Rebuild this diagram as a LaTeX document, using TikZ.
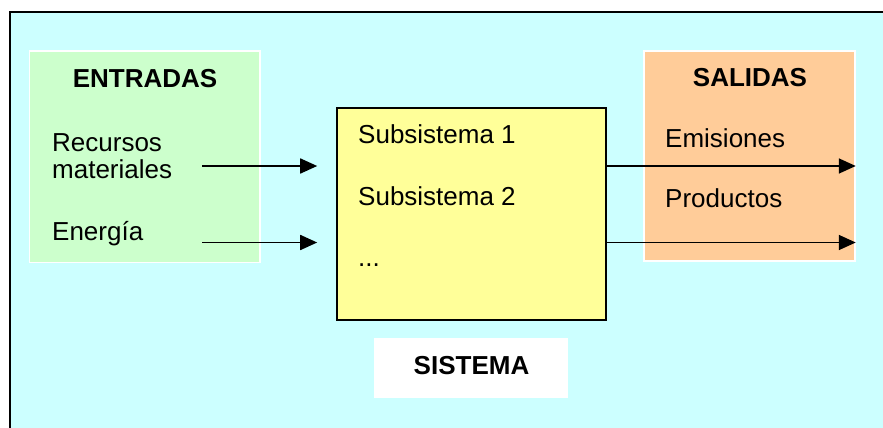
\documentclass[tikz,border=0pt]{standalone}
\usepackage{fontspec}
\setmainfont{Liberation Sans}
\usetikzlibrary{arrows.meta}
\definecolor{bgcyan}{RGB}{204,255,255}
\definecolor{ingreen}{RGB}{204,255,204}
\definecolor{outorange}{RGB}{255,204,153}
\definecolor{sysyellow}{RGB}{255,255,153}
\tikzset{
  panel/.style={draw=white, line width=1.5pt, inner sep=0pt},
  lbl/.style={anchor=base west, inner sep=0pt, font=\fontsize{26}{28}\selectfont},
  title/.style={anchor=base, inner sep=0pt, font=\fontsize{26}{28}\selectfont\bfseries},
  flow/.style={line width=1.8pt, -{Triangle[length=17pt,width=15pt]}},
}
\begin{document}
\begin{tikzpicture}[x=1pt, y=-1pt]
  \path[use as bounding box] (0,0) rectangle (883,428);
  \clip (0,0) rectangle (883,428);
  % background with its top and left frame lines
  \fill[bgcyan] (10,12) rectangle (883,428);
  \draw[line width=2pt] (10,428) -- (10,12) -- (883,12);

  % input panel
  \node[panel, fill=ingreen, minimum width=230.5pt, minimum height=211.5pt]
        (inPanel) at (144.75,156.75) {};
  \node[title] (inTitle) at (145,87) {ENTRADAS};
  \node[lbl] (rec) at (52,151.5) {Recursos};
  \node[lbl] (mat) at (52,178.3) {materiales};
  \node[lbl] (ene) at (52,240) {Energía};

  % output panel
  \node[panel, fill=outorange, minimum width=211pt, minimum height=210pt]
        (outPanel) at (749.5,156) {};
  \node[title] (outTitle) at (750,86) {SALIDAS};
  \node[lbl] (emi) at (665,147.3) {Emisiones};
  \node[lbl] (pro) at (665,207.7) {Productos};

  % system block
  \node[draw=black, line width=1.6pt, fill=sysyellow, minimum width=269pt,
        minimum height=212pt, inner sep=0pt] (sys) at (471.5,214) {};
  \node[lbl] (sub1) at (358,143.3) {Subsistema 1};
  \node[lbl] (sub2) at (358,205) {Subsistema 2};
  \node[lbl] (dots) at (358,266.7) {...};

  % system label
  \node[fill=white, minimum width=194pt, minimum height=59.5pt, inner sep=0pt]
        (sysBox) at (471.3,368) {};
  \node[title] (sysTitle) at (471.5,374.3) {SISTEMA};

  % flows into and out of the system
  \coordinate (in1) at (202,166);
  \coordinate (in2) at (202,242.5);
  \draw[flow, shorten >=19pt] (in1) -- (sys.west |- in1);
  \draw[flow, shorten >=19pt] (in2) -- (sys.west |- in2);
  \draw[flow] (sys.east |- in1) -- (outPanel.east |- in1);
  \draw[flow] (sys.east |- in2) -- (outPanel.east |- in2);
\end{tikzpicture}
\end{document}
